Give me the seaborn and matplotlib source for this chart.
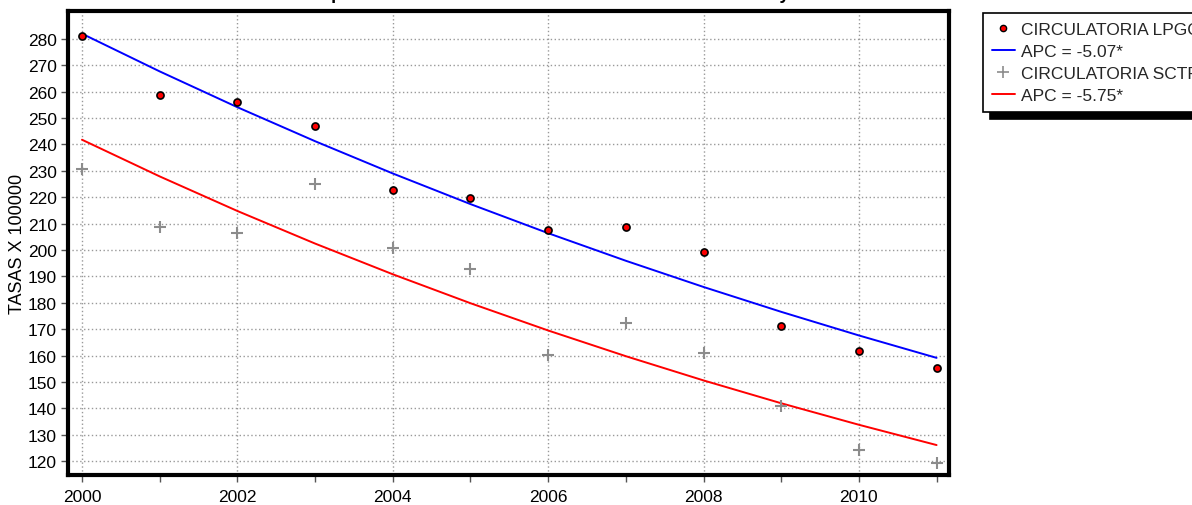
import numpy as np
import pandas as pd
import matplotlib
matplotlib.use("Agg")
import matplotlib.pyplot as plt
import seaborn as sns
from matplotlib.lines import Line2D

# Observed rates (per 100 000) by year
years = [2000, 2001, 2002, 2003, 2004, 2005, 2006, 2007, 2008, 2009, 2010, 2011]
lpgc = [281.0, 258.6, 256.1, 247.1, 222.7, 219.7, 207.6, 208.9, 199.4, 171.3, 161.6, 155.3]
sctf = [230.7, 208.7, 206.4, 225.1, 200.8, 192.8, 160.2, 172.2, 160.8, 141.0, 124.3, 119.2]

# Joinpoint fits: annual percent change and fitted value in the first year
apc_lpgc = -5.07
apc_sctf = -5.75
fit0_lpgc = 282.0
fit0_sctf = 241.8

series_names = ["CIRCULATORIA LPGC", "CIRCULATORIA SCTF"]
title_text = "Mortalidad por enfermedades del sistema circulatorio en LPGC y SCTF"
ylabel_text = "TASAS X 100000"

sns.set_theme(style="white")
plt.rcParams["font.family"] = ["Liberation Sans", "DejaVu Sans"]

fig = plt.figure(figsize=(11.92, 5.06), dpi=100)
ax = fig.add_axes([68 / 1192, 1 - 476 / 506, (949 - 68) / 1192, (476 - 12) / 506])

yrs = np.array(years, dtype=float)
obs = pd.DataFrame({"year": years, "lpgc": lpgc, "sctf": sctf})
fit = pd.DataFrame({
    "year": years,
    "lpgc": fit0_lpgc * (1 + apc_lpgc / 100) ** (yrs - years[0]),
    "sctf": fit0_sctf * (1 + apc_sctf / 100) ** (yrs - years[0]),
})

sns.lineplot(data=fit, x="year", y="lpgc", ax=ax, color="#0000ff", lw=1.4, zorder=3)
sns.lineplot(data=fit, x="year", y="sctf", ax=ax, color="#ff0000", lw=1.4, zorder=3)
sns.scatterplot(data=obs, x="year", y="lpgc", ax=ax, marker="o", s=26,
                color="#ff0000", edgecolor="black", linewidth=1.2, zorder=4)
ax.plot(obs["year"], obs["sctf"], ls="none", marker="+", ms=9, mew=1.5,
        color="#8c8c8c", zorder=4)

ax.set_xlim(1999.82, 2011.16)
ax.set_ylim(114.7, 290.6)
ax.set_xticks(range(2000, 2011, 2))
ax.set_xticks(range(2000, 2012), minor=True)
ax.set_yticks(range(120, 281, 10))
ax.tick_params(axis="both", which="both", bottom=True, left=True, direction="out",
               length=5, width=1, color="#555555", labelsize=12.5, labelcolor="black")
ax.tick_params(axis="x", which="major", pad=5)
ax.tick_params(axis="y", which="major", pad=3)
ax.grid(True, which="major", color="#999999", ls=(0, (1, 1.8)), lw=1)
ax.set_xlabel("")
ax.set_ylabel(ylabel_text, fontsize=13, color="black", labelpad=1)
for side in ["left", "bottom", "top", "right"]:
    ax.spines[side].set_visible(True)
    ax.spines[side].set_color("black")
    ax.spines[side].set_linewidth(3)

# Title sits above the canvas; only its descenders reach the image
fig.text(0.197, 1.0 + 1 / 506, title_text, ha="left", va="baseline",
         fontsize=13, fontweight="bold", color="black")

handles = [
    Line2D([], [], ls="none", marker="o", ms=4.5, mfc="#ff0000", mec="black", mew=1),
    Line2D([], [], color="#0000ff", lw=1.4),
    Line2D([], [], ls="none", marker="+", ms=8, mew=1.2, color="#8c8c8c"),
    Line2D([], [], color="#ff0000", lw=1.4),
]
labels = [series_names[0], f"APC = {apc_lpgc:.2f}*", series_names[1], f"APC = {apc_sctf:.2f}*"]
leg = fig.legend(handles, labels, loc="upper left", bbox_to_anchor=(983 / 1192, 1 - 14 / 506),
                 bbox_transform=fig.transFigure, borderaxespad=0, fontsize=12.5,
                 frameon=True, fancybox=False, handlelength=1.35, handletextpad=0.35,
                 labelspacing=0.4, borderpad=0.5, edgecolor="black",
                 shadow={"color": "black", "alpha": 1.0, "ox": 5, "oy": -5})
leg.get_frame().set_linewidth(1.2)

fig.savefig("out.png", dpi=100, facecolor="white")
